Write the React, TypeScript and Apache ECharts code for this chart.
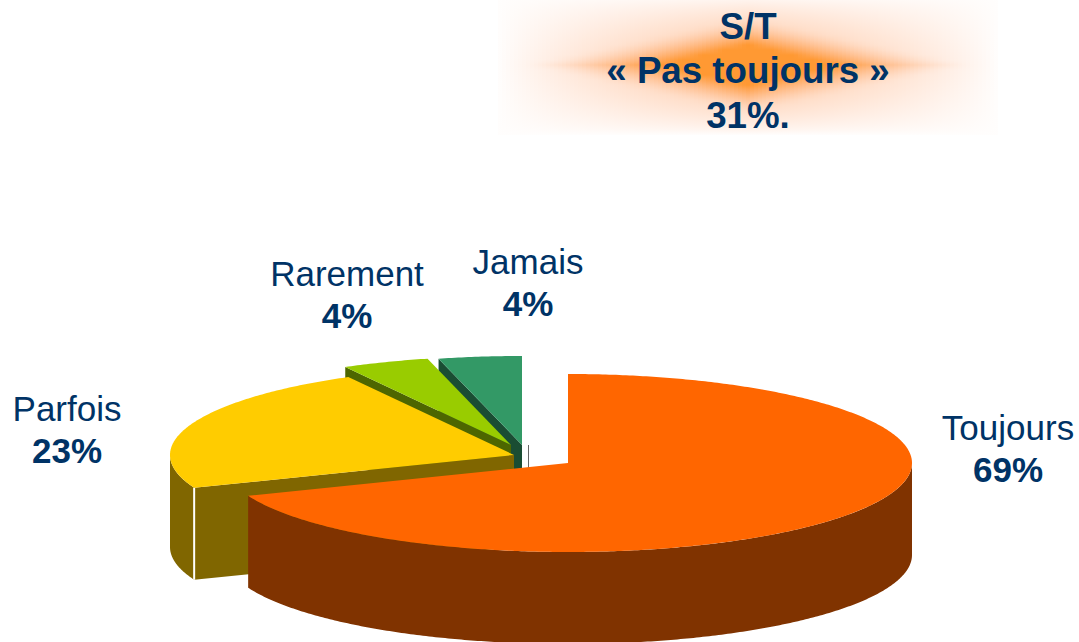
import React, { useEffect, useRef } from "react";
import * as echarts from "echarts";

const categories = ["Toujours", "Parfois", "Rarement", "Jamais"];
const seriesValues = [69, 23, 4.1, 3.9];
const bannerLines = ["S/T", "« Pas toujours »", "31%."];

const topColors = ["#FF6600", "#FFCC00", "#99CC00", "#339966"];
const wallColors = ["#803300", "#806600", "#4D6600", "#1A4D33"];
const textColor = "#003366";
const fontFamily = "'Liberation Sans', Arial, sans-serif";

// Layout of the exploded 3D pie: ellipse radii, extrusion depth, and each slice's apex.
const RX = 344;
const RY = 89;
const DEPTH = 92;
const apexes = [[568, 463], [514, 455], [511, 445], [522, 445]];
const labelPositions = [[1008, 427], [67, 408], [347, 273], [528, 261]];
const LABEL_GAP = 42;

const total = seriesValues.reduce((a, b) => a + b, 0);
const ranges: number[][] = [];
{
  let acc = 0;
  for (const v of seriesValues) {
    ranges.push([acc, acc + v]);
    acc += v;
  }
}

function rim(cx: number, cy: number, a0: number, a1: number, dy = 0) {
  const pts: number[][] = [];
  const n = Math.max(2, Math.ceil(Math.abs(a1 - a0) / 0.01));
  for (let i = 0; i <= n; i++) {
    const t = a0 + ((a1 - a0) * i) / n;
    pts.push([cx + RX * Math.sin(t), cy - RY * Math.cos(t) + dy]);
  }
  return pts;
}

function renderSlice(params: any, api: any) {
  const i = params.dataIndex;
  const a0 = (api.value(0) / total) * Math.PI * 2;
  const a1 = (api.value(1) / total) * Math.PI * 2;
  const [cx, cy] = apexes[i];
  const z2 = (categories.length - i) * 10;
  const children: any[] = [];
  const wall = wallColors[i];

  // cut wall facing the viewer
  if (Math.sin(a0) < -1e-6) {
    const p = rim(cx, cy, a0, a0)[0];
    children.push({
      type: "polygon",
      z2,
      shape: { points: [[cx, cy], p, [p[0], p[1] + DEPTH], [cx, cy + DEPTH]] },
      style: { fill: wall },
    });
  }
  // outer curved wall, front half only
  const fa = Math.max(a0, Math.PI / 2);
  const fb = Math.min(a1, (Math.PI * 3) / 2);
  if (fb > fa) {
    const top = rim(cx, cy, fa, fb);
    const bottom = rim(cx, cy, fb, fa, DEPTH);
    children.push({
      type: "polygon",
      z2: z2 + 1,
      shape: { points: top.concat(bottom) },
      style: { fill: wall },
    });
    if (a0 > Math.PI / 2) {
      // white seam between the cut wall and the curved wall
      const p = top[0];
      children.push({
        type: "polygon",
        z2: z2 + 2,
        shape: {
          points: [
            [p[0] - 1, p[1]],
            [p[0] + 1, p[1]],
            [p[0] + 1, p[1] + DEPTH],
            [p[0] - 1, p[1] + DEPTH],
          ],
        },
        style: { fill: "#FFFFFF" },
      });
    }
  }
  // top face
  children.push({
    type: "polygon",
    z2: z2 + 3,
    shape: { points: [[cx, cy], ...rim(cx, cy, a0, a1)] },
    style: { fill: topColors[i] },
  });
  return { type: "group", children };
}

function bannerGraphics() {
  const cx = 748;
  const cy = 65;
  const halfW = 250;
  const halfH = 70;
  const step = 4;
  const out: any[] = [];
  for (let x = cx - halfW; x < cx + halfW; x += step) {
    const dx = Math.abs(x + step / 2 - cx) / halfW;
    const stops: any[] = [];
    for (let k = 0; k <= 28; k++) {
      const off = k / 28;
      const dy = Math.abs(off - 0.5) * 2;
      const m = dx + 1.3 * dy;
      const core = Math.pow(Math.min(1, Math.max(0, (0.9 - m) / 0.75)), 1.6);
      const glow = 0.55 * Math.pow(1 - dx, 0.9) * Math.pow(1 - dy, 0.75);
      const a = Math.min(1, core + glow + 0.012);
      const g = Math.round(153 - 25 * (1 - a));
      const b = Math.round(51 + 10 * (1 - a));
      stops.push({ offset: off, color: `rgba(255,${g},${b},${a.toFixed(3)})` });
    }
    out.push({
      type: "rect",
      silent: true,
      shape: { x, y: cy - halfH, width: step, height: halfH * 2 },
      style: { fill: new echarts.graphic.LinearGradient(0, 0, 0, 1, stops) },
      z: 1,
    });
  }
  return out;
}

function textGraphics() {
  const out: any[] = [];
  bannerLines.forEach((t, i) => {
    out.push({
      type: "text",
      x: 748,
      y: 26 + i * 44.5,
      z: 5,
      style: {
        text: t,
        fill: textColor,
        font: `bold 36.7px ${fontFamily}`,
        align: "center",
        verticalAlign: "middle",
      },
    });
  });
  categories.forEach((c, i) => {
    const [x, y] = labelPositions[i];
    out.push({
      type: "text",
      x,
      y,
      z: 5,
      style: { text: c, fill: textColor, font: `35px ${fontFamily}`, align: "center", verticalAlign: "middle" },
    });
    out.push({
      type: "text",
      x,
      y: y + LABEL_GAP,
      z: 5,
      style: {
        text: `${Math.round(seriesValues[i])}%`,
        fill: textColor,
        font: `bold 35px ${fontFamily}`,
        align: "center",
        verticalAlign: "middle",
      },
    });
  });
  out.push({
    type: "line",
    z: 0,
    shape: { x1: 528.5, y1: 445, x2: 528.5, y2: 468 },
    style: { stroke: "#666666", lineWidth: 1 },
  });
  return out;
}

export default function App() {
  const ref = useRef<HTMLDivElement>(null);
  useEffect(() => {
    document.body.style.margin = "0";
    const chart = echarts.init(ref.current!, null, { renderer: "svg" });
    chart.setOption({
      animation: false,
      backgroundColor: "#FFFFFF",
      graphic: { elements: [...bannerGraphics(), ...textGraphics()] },
      series: [
        {
          type: "custom",
          coordinateSystem: "none",
          silent: true,
          renderItem: renderSlice,
          data: ranges.map((r, i) => ({ name: categories[i], value: r })),
          z: 2,
        },
      ],
    });
    return () => chart.dispose();
  }, []);
  return <div ref={ref} style={{ width: 1079, height: 642 }} />;
}
